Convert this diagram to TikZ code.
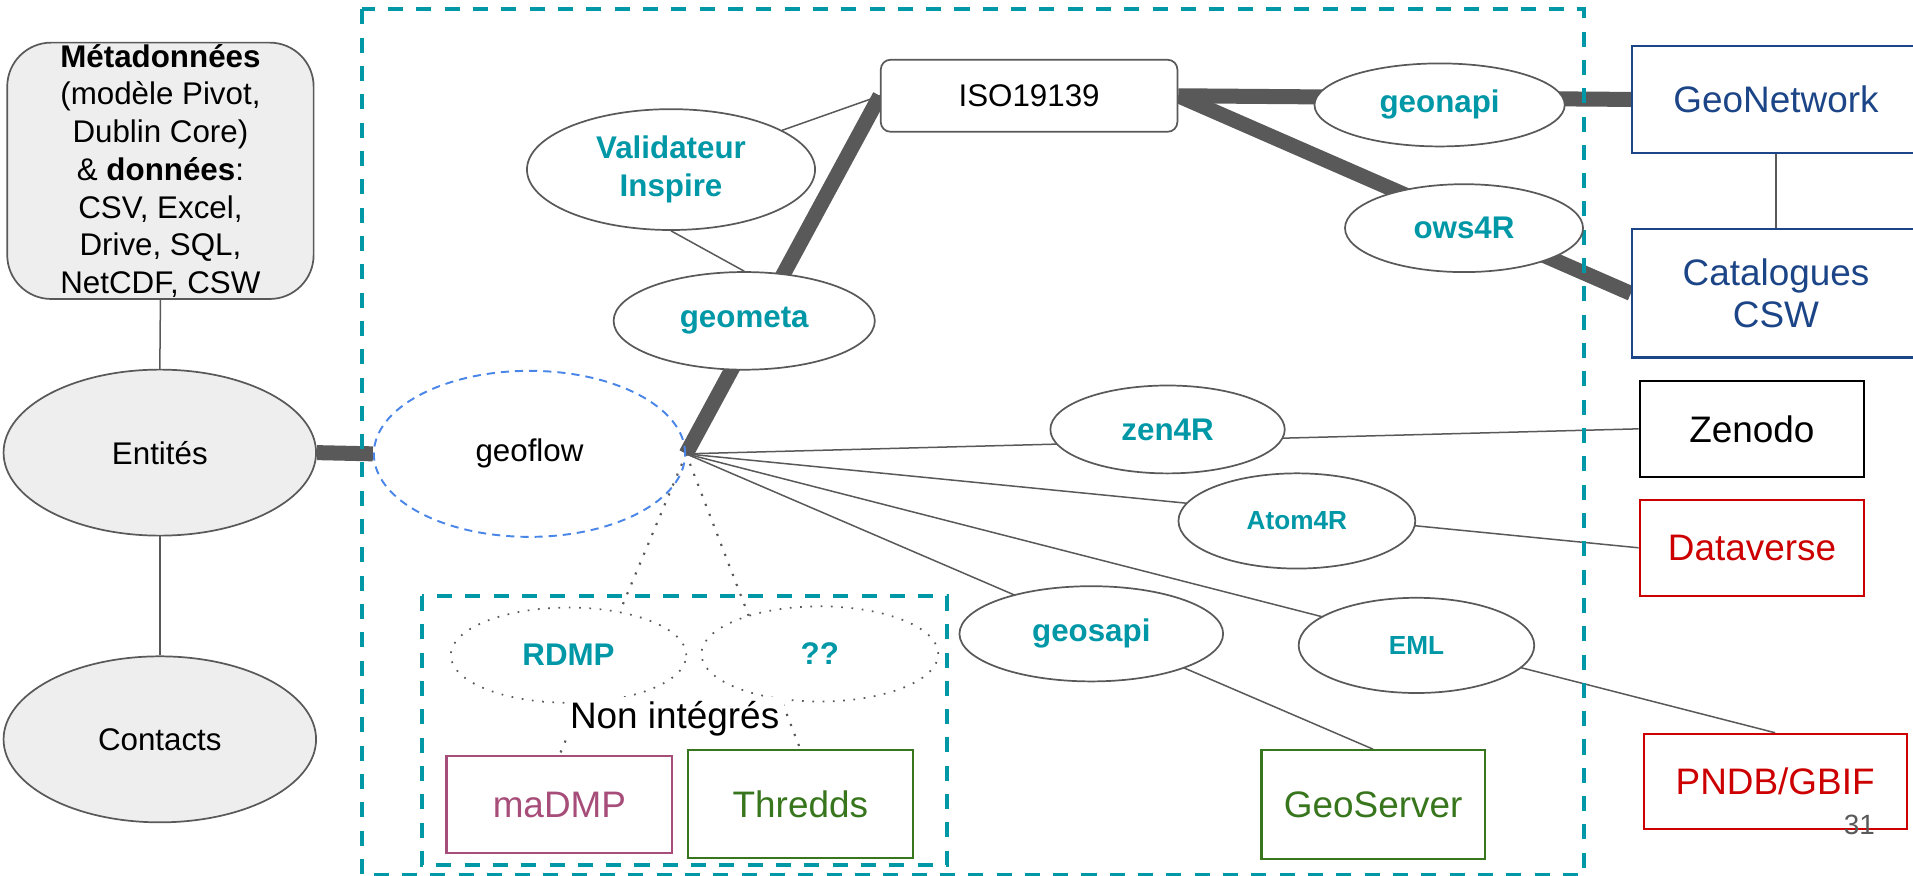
\documentclass[tikz,border=0pt]{standalone}
\usepackage{fontspec}
\setmainfont{Liberation Sans}
\usepackage{tikz}
\usetikzlibrary{shapes.geometric,backgrounds}

\definecolor{geoteal}{HTML}{0097A7}
\definecolor{edgegray}{HTML}{595959}
\definecolor{boxgray}{HTML}{EEEEEE}
\definecolor{netblue}{HTML}{1C4587}
\definecolor{dvred}{HTML}{CC0000}
\definecolor{srvgreen}{HTML}{38761D}
\definecolor{dmppink}{HTML}{A64D79}
\definecolor{flowblue}{HTML}{4A86E8}

\begin{document}
\begin{tikzpicture}[x=0.01cm, y=-0.01cm,
    every node/.style={inner sep=0pt, align=center, font=\fontsize{7.3}{8.8}\selectfont},
    pkg/.style={ellipse, draw=edgegray, line width=0.4pt, fill=white, text=geoteal, font=\fontsize{7.3}{8.8}\selectfont\bfseries},
    todo/.style={pkg, draw=edgegray, dotted},
    plat/.style={rectangle, line width=0.5pt, fill=white, font=\fontsize{8.6}{9.7}\selectfont},
    src/.style={draw=edgegray, line width=0.4pt, fill=boxgray},
    heavy/.style={draw=edgegray, line width=3.5pt},
    light/.style={draw=edgegray, line width=0.35pt},
    tealframe/.style={draw=geoteal, line width=0.93pt, dash pattern=on 3.5pt off 3.1pt}]
        \useasboundingbox (0,0) rectangle (1568,718);
        % inputs
        \node[src, rectangle, rounded corners=0.36cm, minimum width=2.51cm, minimum height=2.1cm] (meta) at (131.5,140)
            {\textbf{Métadonnées}\\(modèle Pivot,\\Dublin Core)\\\& \textbf{données}:\\CSV, Excel,\\Drive, SQL,\\NetCDF, CSW};
        \node[src, ellipse, minimum width=2.56cm, minimum height=1.36cm] (ent) at (131,371) {Entités};
        \node[src, ellipse, minimum width=2.56cm, minimum height=1.36cm] (cont) at (131,606) {Contacts};
        % frames
        \draw[tealframe] (296.5,7.7) rectangle (1298,717.5);
        \draw[tealframe] (346,488.5) rectangle (776,709);
        \node[ellipse, draw=flowblue, line width=0.45pt, dash pattern=on 1.9pt off 1.4pt, minimum width=2.55cm, minimum height=1.36cm] (flow) at (434,372) {geoflow};
        % packages
        \node[rectangle, draw=edgegray, line width=0.4pt, fill=white, rounded corners=0.08cm, minimum width=2.43cm, minimum height=0.59cm] (iso) at (843.5,78.5) {ISO19139};
        \node[pkg, minimum width=2.36cm, minimum height=0.99cm] (val) at (550,139) {Validateur\\Inspire};
        \node[pkg, minimum width=2.14cm, minimum height=0.8cm] (gmeta) at (610,263) {geometa};
        \node[pkg, minimum width=2.05cm, minimum height=0.68cm] (gnapi) at (1180,86) {geonapi};
        \node[pkg, minimum width=1.95cm, minimum height=0.72cm] (ows) at (1200,187) {ows4R};
        \node[pkg, minimum width=1.92cm, minimum height=0.72cm] (zen) at (957,352) {zen4R};
        \node[pkg, minimum width=1.94cm, minimum height=0.78cm, font=\fontsize{6.1}{7}\selectfont\bfseries] (atom) at (1063,427) {Atom4R};
        \node[pkg, minimum width=2.16cm, minimum height=0.78cm] (gsapi) at (894.5,519.5) {geosapi};
        \node[pkg, minimum width=1.93cm, minimum height=0.78cm, font=\fontsize{6.1}{7}\selectfont\bfseries] (eml) at (1161,529) {EML};
        \node[todo, minimum width=1.93cm, minimum height=0.78cm] (rdmp) at (466,537) {RDMP};
        \node[todo, minimum width=1.94cm, minimum height=0.78cm] (qq) at (672,536) {??};
        \node[fill=white, inner sep=1pt, font=\fontsize{8.6}{9.7}\selectfont] (nonint) at (553,589) {Non intégrés};
        % platforms
        \node[plat, draw=netblue, text=netblue, minimum width=2.36cm, minimum height=0.88cm] (gnet) at (1455.7,81.5) {GeoNetwork};
        \node[plat, draw=netblue, text=netblue, minimum width=2.36cm, minimum height=1.05cm] (cat) at (1455.7,240.5) {Catalogues\\CSW};
        \node[plat, draw=black, text=black, minimum width=1.84cm, minimum height=0.79cm] (zenodo) at (1436,351.5) {Zenodo};
        \node[plat, draw=dvred, text=dvred, minimum width=1.84cm, minimum height=0.79cm] (dverse) at (1436,449) {Dataverse};
        \node[plat, draw=dvred, text=dvred, minimum width=2.155cm, minimum height=0.78cm] (pndb) at (1455,640.5) {PNDB/GBIF};
        \node[plat, draw=srvgreen, text=srvgreen, minimum width=1.83cm, minimum height=0.89cm] (gserver) at (1125.5,659.5) {GeoServer};
        \node[plat, draw=srvgreen, text=srvgreen, minimum width=1.84cm, minimum height=0.88cm] (thredds) at (656,659) {Thredds};
        \node[plat, draw=dmppink, text=dmppink, minimum width=1.85cm, minimum height=0.79cm] (madmp) at (458.5,659.5) {maDMP};
        \node[text=edgegray, font=\fontsize{6.5}{7}\selectfont] (pnum) at (1524,676) {31};
        % connectors
        \begin{pgfonlayer}{background}
            \draw[light] (meta.south) -- (ent.north);
            \draw[light] (ent.south) -- (cont.north);
            \draw[light] (gnet.south) -- (cat.north);
            \draw[light] (val.south) -- (gmeta.north);
            \draw[light] (val) -- (iso.west);
            \draw[heavy] (ent.east) -- (flow.west);
            \draw[heavy] (flow.east) -- (iso.west);
            \draw[heavy] (iso.east) -- (gnet.west);
            \draw[heavy] (iso.east) -- (cat.west);
            \foreach \t in {zenodo.west, dverse.west, gserver.north, pndb.north} {
                \draw[light] (flow.east) -- (\t);
            }
            \foreach \t in {madmp.north, thredds.north} {
                \draw[edgegray, line width=0.5pt, dotted] (flow.east) -- (\t);
            }
        \end{pgfonlayer}
    \end{tikzpicture}
\end{document}
